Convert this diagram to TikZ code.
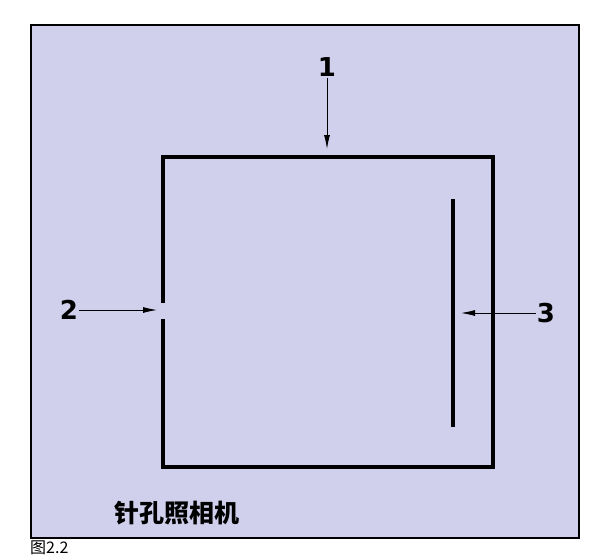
\documentclass[tikz,border=0pt]{standalone}
\usepackage{fontspec}
\setmainfont{Liberation Sans}
\newfontfamily\heavy{DejaVu Sans}
\newfontfamily\cjk{Noto Sans CJK SC}
\usepackage{tikz}
\usetikzlibrary{calc,arrows.meta}
\definecolor{panelblue}{RGB}{208,208,236}
\tikzset{
  wall/.style={line width=4.5pt},
  ray/.style={line width=0.9pt,-{Latex[length=14pt,width=6pt]}},
  num/.style={font=\heavy\fontsize{26}{26}\selectfont\bfseries, inner sep=1pt}
}

\begin{document}
\begin{tikzpicture}[x=1pt,y=-1pt]
                      \useasboundingbox (0,0) rectangle (610,558);
                      \clip (0,0) rectangle (610,558);
                      \draw[fill=panelblue, line width=1.4pt] (31,25) rectangle (579,538);
                      % camera box, pinhole on the left wall
                      \draw[wall] (163,303) -- (163,157) -- (493,157) -- (493,467) -- (163,467) -- (163,319);
                      \draw[line width=4pt] (453,199) -- (453,427);
                      \node[num] (one) at (327,67) {1};
                      \node[num] (two) at (69,310) {2};
                      \node[num] (three) at (546,313) {3};
                      \coordinate (top) at (329,149);
                      \coordinate (hole) at (157,310);
                      \coordinate (film) at (461,313);
                      \draw[ray] (one) -- (one |- top);
                      \draw[ray] (two) -- (hole);
                      \draw[ray] (three) -- (film);
                      \node[font=\cjk\fontsize{25}{25}\selectfont\bfseries, anchor=west, inner sep=0pt] (name) at (114,513) {针孔照相机};
                      \node[font=\cjk\fontsize{16}{16}\selectfont, anchor=north west, inner sep=0pt] (fig) at (30,541) {图2.2};
                  \end{tikzpicture}
\end{document}
